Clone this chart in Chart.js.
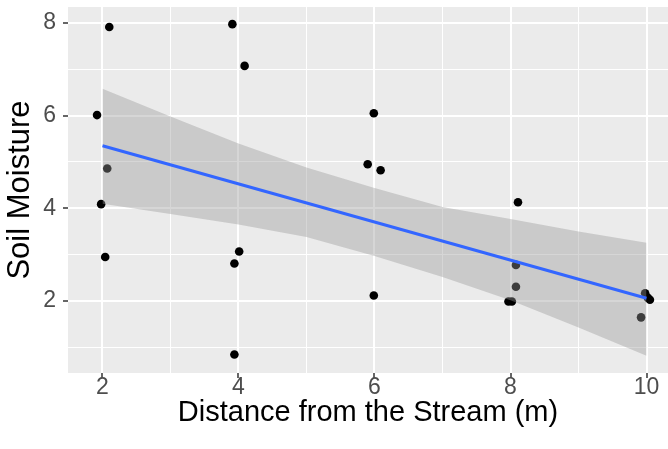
<!DOCTYPE html>
<html>
<head>
<meta charset="utf-8">
<script src="https://cdn.jsdelivr.net/npm/chart.js@4.4.1/dist/chart.umd.min.js"></script>
<style>
  html, body { margin: 0; padding: 0; background: #ffffff; }
  #wrap { width: 668px; height: 449px; }
</style>
</head>
<body>
<div id="wrap"><canvas id="c" width="668" height="449"></canvas></div>
<script>
// Observed (jittered) points
const distance = [2.10, 1.92, 2.07, 1.98, 2.04, 3.91, 4.09, 4.01, 3.94, 3.94, 5.99, 5.90, 6.09, 5.99, 8.11, 8.08, 8.08, 7.97, 8.02, 9.98, 10.02, 10.05, 9.92];
const moisture = [7.91, 6.01, 4.86, 4.09, 2.95, 7.97, 7.07, 3.07, 2.81, 0.85, 6.05, 4.95, 4.82, 2.12, 4.13, 2.78, 2.31, 1.99, 1.99, 2.17, 2.07, 2.03, 1.65];

// Fitted line (lm) endpoints
const fitX = [2, 10];
const fitY = [5.35, 2.06];

// Confidence band
const bandX = [2, 3, 4, 5, 6, 7, 8, 9, 10];
const bandUpper = [6.58, 5.98, 5.40, 4.88, 4.44, 4.03, 3.77, 3.50, 3.26];
const bandLower = [4.10, 3.88, 3.65, 3.38, 2.97, 2.52, 2.02, 1.43, 0.82];

// Axis ticks (major labelled, odd values are minor grid lines)
const xTickValues = [2, 3, 4, 5, 6, 7, 8, 9, 10];
const yTickValues = [1, 2, 3, 4, 5, 6, 7, 8];
const xLabel = 'Distance from the Stream (m)';
const yLabel = 'Soil Moisture';

const toXY = (xs, ys) => xs.map((x, i) => ({ x: x, y: ys[i] }));
const isMajor = v => Math.abs(v % 2) < 1e-9;

// Panel box in canvas pixels
const PANEL = { left: 68, right: 668, top: 7, bottom: 373 };

const fixPanel = {
  id: 'fixPanel',
  afterLayout(chart) {
    const a = chart.chartArea;
    a.left = PANEL.left; a.right = PANEL.right; a.top = PANEL.top; a.bottom = PANEL.bottom;
    a.width = a.right - a.left; a.height = a.bottom - a.top;
    const x = chart.scales.x, y = chart.scales.y;
    x.left = PANEL.left; x.right = PANEL.right; x.width = x.right - x.left;
    x.top = PANEL.bottom; x.bottom = chart.height; x.height = x.bottom - x.top;
    y.top = PANEL.top; y.bottom = PANEL.bottom; y.height = y.bottom - y.top;
    y.left = 0; y.right = PANEL.left; y.width = PANEL.left;
    x.configure(); y.configure();
  }
};

const panelBg = {
  id: 'panelBg',
  beforeDraw(chart) {
    const a = chart.chartArea, ctx = chart.ctx;
    ctx.save();
    ctx.fillStyle = '#EBEBEB';
    ctx.fillRect(a.left, a.top, a.right - a.left, a.bottom - a.top);
    ctx.restore();
  }
};

const FONT = "'Liberation Sans', Arial, sans-serif";

const gridOpts = {
  color: '#FFFFFF',
  lineWidth: c => (c.tick && isMajor(c.tick.value)) ? 2 : 1,
  tickColor: c => (c.tick && isMajor(c.tick.value)) ? '#333333' : 'rgba(0,0,0,0)',
  tickWidth: 1.5,
  tickLength: 5,
  drawTicks: true
};

new Chart(document.getElementById('c'), {
  type: 'scatter',
  data: {
    datasets: [
      {
        label: 'points',
        data: toXY(distance, moisture),
        backgroundColor: '#000000',
        borderWidth: 0,
        pointRadius: 4.3,
        order: 4
      },
      {
        label: 'lower',
        data: toXY(bandX, bandLower),
        showLine: true,
        pointRadius: 0,
        borderWidth: 0,
        borderColor: 'rgba(0,0,0,0)',
        fill: false,
        order: 3
      },
      {
        label: 'upper',
        data: toXY(bandX, bandUpper),
        showLine: true,
        pointRadius: 0,
        borderWidth: 0,
        borderColor: 'rgba(0,0,0,0)',
        backgroundColor: 'rgba(153,153,153,0.4)',
        fill: '-1',
        order: 2
      },
      {
        label: 'fit',
        data: toXY(fitX, fitY),
        showLine: true,
        pointRadius: 0,
        borderColor: '#3366FF',
        borderWidth: 3,
        fill: false,
        order: 1
      }
    ]
  },
  options: {
    responsive: false,
    animation: false,
    events: [],
    layout: { padding: { top: 7, right: 0, left: 0, bottom: 0 } },
    plugins: {
      legend: { display: false },
      tooltip: { enabled: false },
      filler: { propagate: false }
    },
    scales: {
      x: {
        type: 'linear',
        min: 1.493,
        max: 10.316,
        border: { display: false },
        grid: gridOpts,
        afterBuildTicks: s => { s.ticks = xTickValues.map(v => ({ value: v })); },
        afterFit: s => { s.height = 76; s.paddingLeft = 0; s.paddingRight = 0; },
        ticks: {
          color: '#4D4D4D',
          font: { family: FONT, size: 23, lineHeight: 1 },
          padding: -2,
          maxRotation: 0,
          autoSkip: false,
          callback: v => isMajor(v) ? String(v) : ''
        },
        title: {
          display: true,
          text: xLabel,
          color: '#000000',
          font: { family: FONT, size: 29 },
          padding: { top: 0, bottom: 19 }
        }
      },
      y: {
        type: 'linear',
        min: 0.45,
        max: 8.34,
        border: { display: false },
        grid: gridOpts,
        afterBuildTicks: s => { s.ticks = yTickValues.map(v => ({ value: v })); },
        afterFit: s => { s.width = 68; s.paddingTop = 0; s.paddingBottom = 0; },
        ticks: {
          color: '#4D4D4D',
          font: { family: FONT, size: 23 },
          padding: 7,
          autoSkip: false,
          callback: v => isMajor(v) ? String(v) : ''
        },
        title: {
          display: true,
          text: yLabel,
          color: '#000000',
          font: { family: FONT, size: 31 },
          padding: { top: 2, bottom: 0 }
        }
      }
    }
  },
  plugins: [fixPanel, panelBg]
});
</script>
</body>
</html>
